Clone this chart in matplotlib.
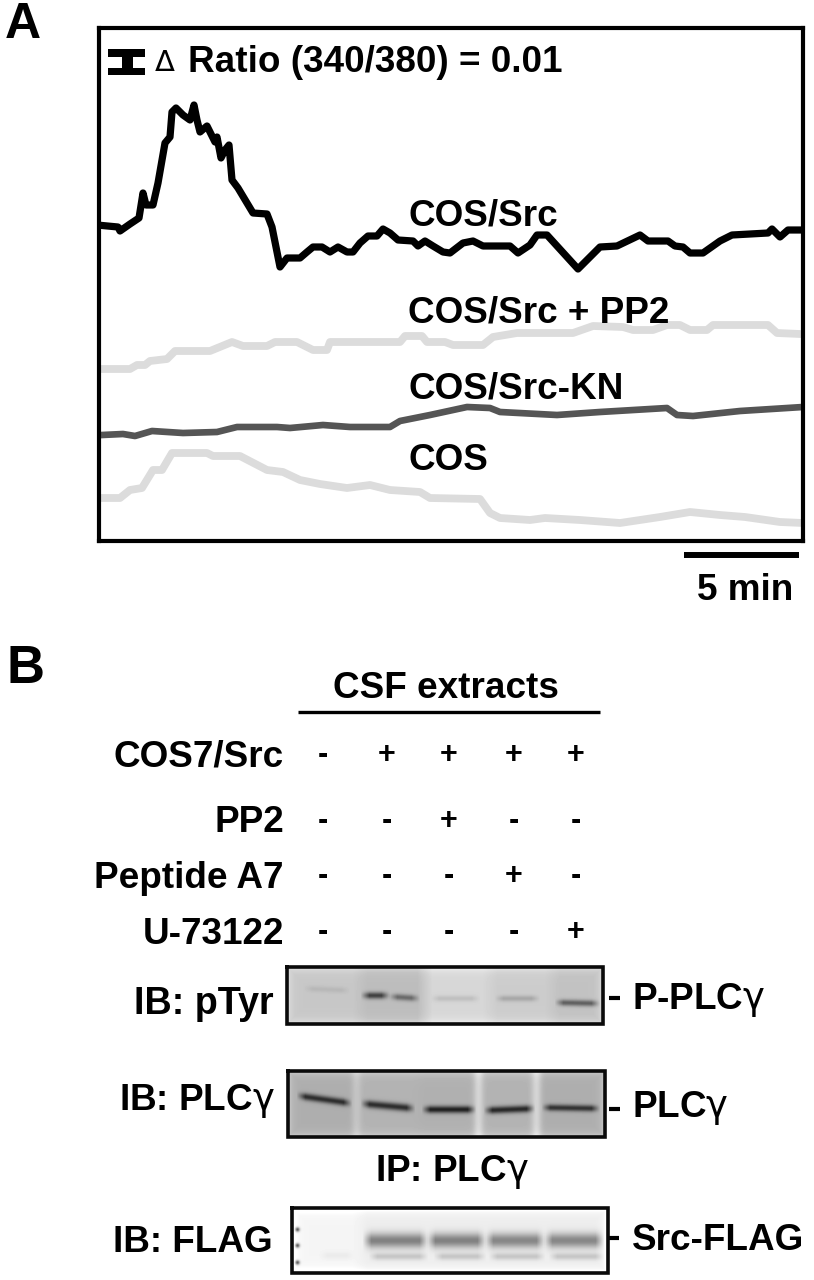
import numpy as np
import matplotlib
matplotlib.use('Agg')
import matplotlib.pyplot as plt

plt.rcParams['font.family'] = ['Liberation Sans', 'DejaVu Sans']
plt.rcParams['mathtext.fontset'] = 'dejavusans'

W, H = 814, 1280

# Panel A: time in recording samples (23 per minute), ratio in units of 0.0005
src_t = [-2,19,21,31,40,44,47,54,59,66,71,73,77,84,91,95,98,101,108,116,118,122,126,130,133,139,154,168,173,181,188,201,208,214,223,231,239,248,254,261,269,278,284,291,299,314,319,326,334,344,351,364,374,384,411,419,431,438,448,479,501,518,541,549,569,576,584,591,604,621,633,669,673,681,689,706]
src_r = [316,314,310,317,323,348,336,336,358,398,404,429,433,426,421,436,421,409,415,399,404,383,391,396,361,353,328,327,314,274,283,283,289,294,294,289,294,289,289,298,305,305,312,308,301,300,295,300,295,289,288,298,300,295,295,288,296,306,306,272,294,295,306,300,300,295,294,288,288,300,306,308,312,304,311,311]
pp2_t = [3,31,38,46,51,68,76,111,133,144,168,176,198,214,228,231,301,306,323,328,346,354,384,394,418,474,494,524,534,554,568,581,591,608,614,669,678,701]
pp2_r = [172,172,176,176,180,182,190,190,199,195,195,199,199,191,191,199,199,205,205,199,199,196,196,204,208,208,215,214,211,211,216,216,211,211,216,216,208,207]
kn_t = [3,24,36,53,84,118,138,178,191,224,251,291,301,331,368,391,401,458,501,568,578,594,641,704]
kn_r = [106,107,105,110,108,109,114,114,113,116,114,114,120,126,134,133,129,126,129,133,126,125,130,134]
cos_t = [3,21,31,43,54,63,73,108,114,141,168,184,201,221,248,271,291,321,331,381,391,401,431,446,481,521,561,591,621,646,681,704]
cos_r = [43,43,51,53,71,71,88,88,85,85,71,69,61,57,53,56,51,49,43,42,28,23,21,23,21,18,24,29,26,24,19,18]
series_labels = ['COS/Src', 'COS/Src + PP2', 'COS/Src-KN', 'COS']
samples_per_min = 23
scale_minutes = 5

# Panel B: treatment table
columns = ['COS7/Src', 'PP2', 'Peptide A7', 'U-73122']
signs = [['-', '+', '+', '+', '+'],
         ['-', '-', '+', '-', '-'],
         ['-', '-', '-', '+', '-'],
         ['-', '-', '-', '-', '+']]

# Blots: band start, end, y at start, y at end, darkness, thickness
pty_bands = [(303,350,988,990,.06,3),(360,390,995,995,.48,3.4),(388,420,996,998,.32,3.2),(430,480,998,998,.09,3),(494,540,998,998,.14,3),(554,600,1002,1003,.38,3.2)]
plc_bands = [(296,352,1095,1103,.50,3.6),(360,415,1103,1108,.52,3.8),(421,476,1109,1109,.56,3.6),(483,535,1110,1108,.54,3.6),(541,600,1107,1108,.48,3.3)]
flag_bands = [(318,355,1255,1255,.04,4),(362,428,1240,1240,.42,7.5),(426,486,1240,1240,.42,7.5),(484,545,1240,1240,.40,7.5),(543,604,1240,1240,.40,7.5),(368,428,1256,1256,.15,3.5),(433,486,1256,1256,.15,3.5),(488,545,1256,1256,.15,3.5),(548,604,1256,1256,.15,3.5)]
pty_lanes = [(287,.78),(360,.74),(425,.84),(490,.80),(552,.76)]
plc_lanes = [(288,.68),(358,.70),(418,.69),(480,.70),(538,.68)]
flag_lanes = [(292,.96),(360,.93),(428,.93),(485,.93),(545,.93)]

fig = plt.figure(figsize=(W/100, H/100), dpi=100, facecolor='white')

def frame(l, t, r, b):
    return [l/W, 1-b/H, (r-l)/W, (b-t)/H]

ax = fig.add_axes(frame(99, 28, 803, 541))
ax.set_xlim(0, 704)
ax.set_ylim(0, 513)
ax.set_xticks([]); ax.set_yticks([])
for s in ax.spines.values():
    s.set_linewidth(3.0)
    s.set_zorder(5)
ax.plot(pp2_t, pp2_r, color='#dcdcdc', lw=5.6, solid_joinstyle='round')
ax.plot(cos_t, cos_r, color='#dcdcdc', lw=5.6, solid_joinstyle='round')
ax.plot(kn_t, kn_r, color='#555555', lw=4.8, solid_joinstyle='round')
ax.plot(src_t, src_r, color='black', lw=5.2, solid_joinstyle='round')
bar_end = 700
ax.plot([bar_end - scale_minutes*samples_per_min, bar_end], [-14, -14], color='black', lw=4.3,
        solid_capstyle='butt', clip_on=False)

ov = fig.add_axes([0, 0, 1, 1], zorder=10)
ov.set_xlim(0, W); ov.set_ylim(H, 0); ov.axis('off')

def T(x, y, s, ha='left', size=26.6, **kw):
    ov.text(x, y+3, s, ha=ha, va='center', fontsize=size, fontweight='bold', color='black', **kw)

T(5, 22, 'A', size=36)
T(7, 666, 'B', size=38)

# error-bar glyph
ov.fill_between([108, 145], 49, 57, color='black', lw=0)
ov.fill_between([108, 145], 68, 75, color='black', lw=0)
ov.fill_between([122, 133], 57, 68, color='black', lw=0)
ov.text(155, 63, '\u0394', fontsize=21, family='DejaVu Sans', ha='left', va='center', color='black')
T(188, 60, 'Ratio (340/380) = 0.01')

T(408, 213, series_labels[0])
T(408, 310, series_labels[1])
T(408, 386, series_labels[2])
T(408, 458, series_labels[3])
T(697, 587, f'{scale_minutes} min')

T(446, 686, 'CSF extracts', ha='center')
ov.plot([298, 600], [712, 712], color='black', lw=2.4, solid_capstyle='butt')

lane_x = [323, 387, 449, 514, 576]
row_y = [754, 820, 875, 931]
for name, y, row in zip(columns, row_y, signs):
    T(284, y, name, ha='right')
    for x, sgn in zip(lane_x, row):
        T(x, y-2, sgn, ha='center', size=22)

def blot(l, t, r, b, lanes, bands, gaps=(), dots=()):
    yy, xx = np.mgrid[t:b, l:r].astype(float)
    starts = [v[0] for v in lanes] + [r]
    img = np.zeros_like(xx)
    for i, (s, g) in enumerate(lanes):
        img[(xx >= s) & (xx < starts[i+1])] = g
    kernel = np.ones(15)/15
    pad = np.pad(img, ((0, 0), (7, 7)), mode='edge')
    img = np.array([np.convolve(row, kernel, mode='valid') for row in pad])
    for gx, amt in gaps:
        img += amt*np.exp(-((xx-gx)/5.0)**2)
    for x0, x1, y0, y1, d, th in bands:
        fx = np.clip((xx-x0)/(x1-x0), 0, 1)
        yc = y0 + (y1-y0)*fx
        ends = np.clip((xx-x0)/9, 0, 1)*np.clip((x1-xx)/9, 0, 1)
        img -= d*ends*np.exp(-((yy-yc)/th)**2)
    edge = np.minimum.reduce([xx-l, r-1-xx, yy-t, b-1-yy])
    img += .12*np.exp(-edge/3.5)
    for dx, dy in dots:
        img -= .6*np.exp(-((xx-dx)**2+(yy-dy)**2)/5)
    img = np.clip(img, 0, 1)
    ov.imshow(img, extent=(l, r, b, t), cmap='gray', vmin=0, vmax=1, aspect='auto',
              interpolation='bicubic', zorder=1)
    ov.plot([l, r, r, l, l], [t, t, b, b, t], color='#0a0a0a', lw=2.6, zorder=3,
            solid_joinstyle='miter')

blot(287, 967, 603, 1024, pty_lanes, pty_bands)
blot(288, 1071, 605, 1137, plc_lanes, plc_bands, gaps=[(356, .08), (478, .14), (536, .14)])
blot(292, 1208, 608, 1273, flag_lanes, flag_bands, dots=[(297, 1229), (297, 1245), (297, 1262)])
ov.set_xlim(0, W); ov.set_ylim(H, 0)

gamma = r'$\mathrm{\gamma}$'
T(274, 1001, 'IB: pTyr', ha='right', size=27.2)
T(275, 1098, 'IB: PLC' + gamma, ha='right')
T(273, 1239, 'IB: FLAG', ha='right')
T(452, 1169, 'IP: PLC' + gamma, ha='center')
T(632, 997, 'P-PLC' + gamma)
T(632, 1105, 'PLC' + gamma)
T(632, 1237, 'Src-FLAG')
for x0, y in [(609, 998), (609, 1109), (608, 1238)]:
    ov.plot([x0, x0+11], [y, y], color='black', lw=3, solid_capstyle='butt')

fig.savefig('out.png', dpi=100, facecolor='white')
